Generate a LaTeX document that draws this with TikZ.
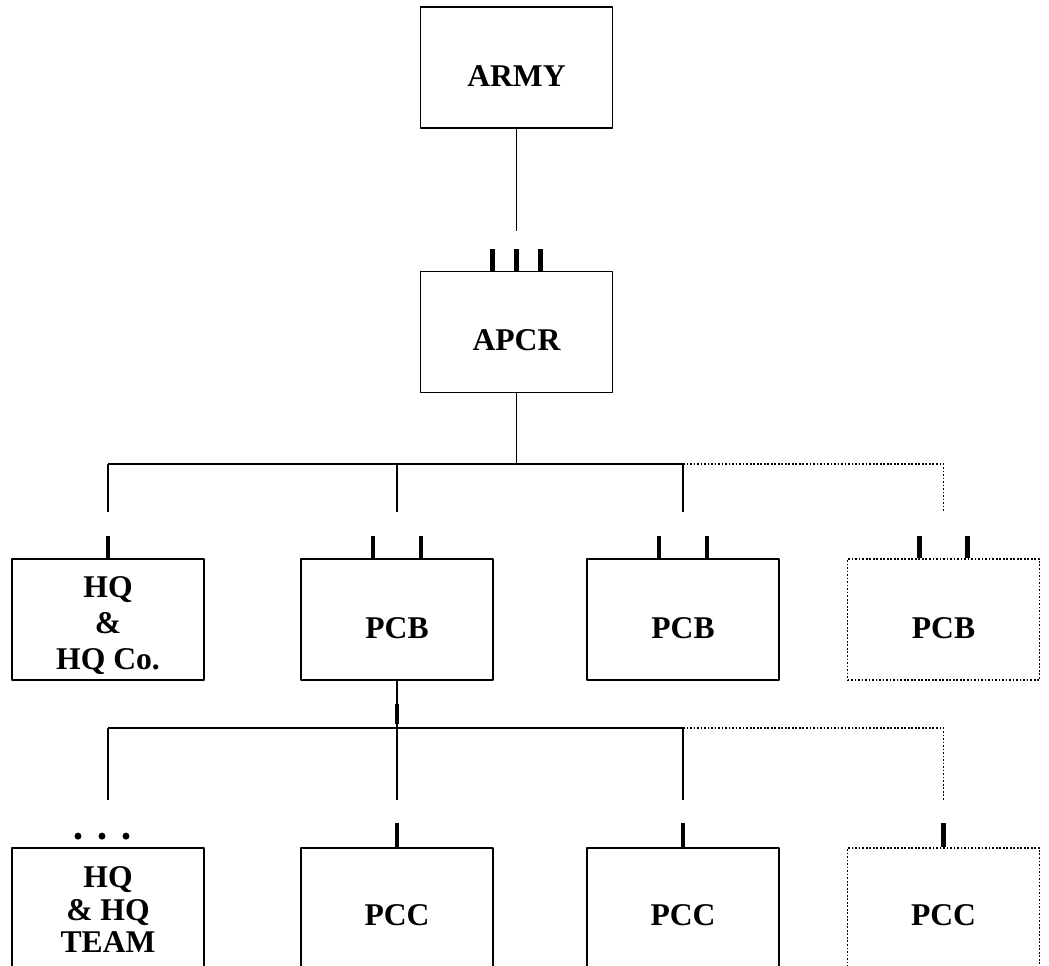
\documentclass[tikz,border=0pt]{standalone}
\usepackage{fontspec}
\setmainfont{Liberation Serif}
\usetikzlibrary{calc}
\tikzset{
	unitbox/.style={draw,line width=1pt,minimum width=3.84cm,minimum height=2.42cm,inner sep=0pt},
	planned/.style={unitbox,densely dotted},
	boxtext/.style={inner sep=0pt,align=center,font=\fontsize{18}{20}\selectfont\bfseries},
	link/.style={line width=1pt},
	sizemark/.style={line width=2.8pt}
}
\begin{document}
\begin{tikzpicture}[line join=round,x=0.02cm,y=-0.02cm]
	\useasboundingbox (0,0) rectangle (1049,966);
	\clip (0,0) rectangle (1049,966);
	\node[unitbox] (army) at (516.5,67.5) {};
	\node[unitbox] (apcr) at (516.5,332) {};
	\node[unitbox] (hq) at (108,619.5) {};
	\node[unitbox] (pcb1) at (397,619.5) {};
	\node[unitbox] (pcb2) at (683,619.5) {};
	\node[planned] (pcb3) at (943.5,619.5) {};
	\node[unitbox] (hqteam) at (108,908.5) {};
	\node[unitbox] (pcc1) at (397,908.5) {};
	\node[unitbox] (pcc2) at (683,908.5) {};
	\node[planned] (pcc3) at (943.5,908.5) {};
	\node[boxtext] (armyname) at ([yshift=-0.17cm]army) {ARMY};
	\node[boxtext] (apcrname) at ([yshift=-0.17cm]apcr) {APCR};
	\node[boxtext] (hqname) at ([yshift=-0.12cm]hq) {HQ\\[0.5pt]\&\\[0.5pt]HQ Co.};
	\foreach \u in {pcb1,pcb2,pcb3}
		\node[boxtext] (\u name) at ([yshift=-0.17cm]\u) {PCB};
	\node[boxtext] (hqteamname) at ([yshift=-0.03cm]hqteam) {HQ\\[-1.5pt]\& HQ\\[-1.5pt]TEAM};
	\foreach \u in {pcc1,pcc2,pcc3}
		\node[boxtext] (\u name) at ([yshift=-0.13cm]\u) {PCC};
	\coordinate (busA) at (0,464);
	\coordinate (busB) at (0,728);
	\draw[link] (army.south) -- ++(0,102);
	\foreach \dx in {-24,0,24}
		\draw[sizemark] ([xshift=\dx*0.02cm]apcr.north) -- ++(0,-22);
	\draw[link] (apcr.south) -- (apcr.south |- busA);
	\draw[link] (hq.north |- busA) -- (pcb2.north |- busA);
	\foreach \u in {hq,pcb1,pcb2}
		\draw[link] (\u.north |- busA) -- ++(0,48);
	\draw[link,densely dotted] (pcb2.north |- busA) -- (pcb3.north |- busA) -- ++(0,48);
	\draw[sizemark] (hq.north) -- ++(0,-22);
	\foreach \u in {pcb1,pcb2,pcb3}
		\foreach \dx in {-24,24}
			\draw[sizemark] ([xshift=\dx*0.02cm]\u.north) -- ++(0,-22);
	\draw[link] (pcb1.south) -- (pcb1.south |- busB);
	\draw[line width=2pt] ($(pcb1.south)+(0,23)$) -- ++(0,20);
	\draw[link] (hqteam.north |- busB) -- (pcc2.north |- busB);
	\foreach \u in {hqteam,pcc1,pcc2}
		\draw[link] (\u.north |- busB) -- ++(0,72);
	\draw[link,densely dotted] (pcc2.north |- busB) -- (pcc3.north |- busB) -- ++(0,72);
	\foreach \u in {pcc1,pcc2,pcc3}
		\draw[sizemark] (\u.north) -- ++(0,-24);
	\foreach \dx in {-30,-6,18}
		\fill ([xshift=\dx*0.02cm,yshift=0.22cm]hqteam.north) circle (0.07cm);
\end{tikzpicture}
\end{document}
